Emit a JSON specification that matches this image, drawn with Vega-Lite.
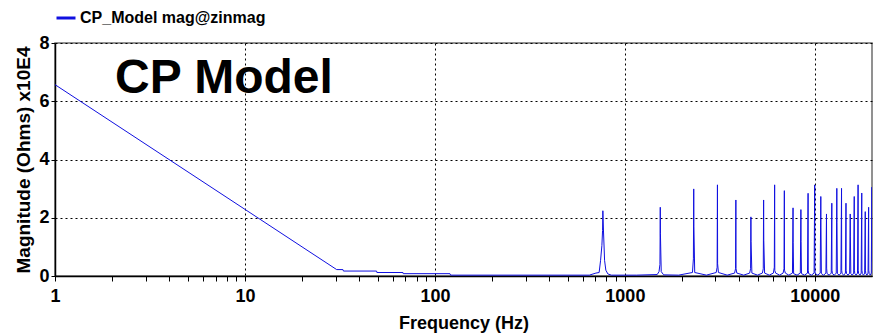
{
  "$schema": "https://vega.github.io/schema/vega-lite/v6.json",
  "width": 817,
  "height": 233,
  "autosize": {"type": "none"},
  "padding": {"left": 55, "top": 43, "right": 2, "bottom": 60},
  "background": "white",
  "config": {
    "font": "Liberation Sans",
    "view": {"stroke": "#6e6e6e", "strokeWidth": 1.5}
  },
  "layer": [
    {
      "data": {
        "values": [
          {"freq": 1, "mag": 6.57},
          {"freq": 30.4, "mag": 0.22},
          {"freq": 32.8, "mag": 0.22},
          {"freq": 33.0, "mag": 0.17},
          {"freq": 49.3, "mag": 0.17},
          {"freq": 49.5, "mag": 0.12},
          {"freq": 67.9, "mag": 0.12},
          {"freq": 68.1, "mag": 0.08},
          {"freq": 120, "mag": 0.08},
          {"freq": 121, "mag": 0.03},
          {"freq": 650, "mag": 0.03},
          {"freq": 704, "mag": 0.1},
          {"freq": 732, "mag": 0.12},
          {"freq": 745, "mag": 0.54},
          {"freq": 757, "mag": 1.05},
          {"freq": 763, "mag": 1.56},
          {"freq": 766, "mag": 2.24},
          {"freq": 772, "mag": 1.51},
          {"freq": 782, "mag": 0.54},
          {"freq": 794, "mag": 0.2},
          {"freq": 814, "mag": 0.07},
          {"freq": 850, "mag": 0.03},
          {"freq": 1152, "mag": 0.03},
          {"freq": 1480, "mag": 0.05},
          {"freq": 1513, "mag": 0.15},
          {"freq": 1530, "mag": 0.4},
          {"freq": 1536, "mag": 2.36},
          {"freq": 1539, "mag": 1.45},
          {"freq": 1554, "mag": 0.15},
          {"freq": 1600, "mag": 0.04},
          {"freq": 1920, "mag": 0.03},
          {"freq": 2269, "mag": 0.12},
          {"freq": 2295, "mag": 0.59},
          {"freq": 2304, "mag": 2.99},
          {"freq": 2309, "mag": 1.71},
          {"freq": 2332, "mag": 0.12},
          {"freq": 2688, "mag": 0.03},
          {"freq": 3026, "mag": 0.12},
          {"freq": 3060, "mag": 0.3},
          {"freq": 3072, "mag": 3.13},
          {"freq": 3078, "mag": 0.42},
          {"freq": 3109, "mag": 0.12},
          {"freq": 3456, "mag": 0.03},
          {"freq": 3782, "mag": 0.1},
          {"freq": 3825, "mag": 0.25},
          {"freq": 3840, "mag": 2.61},
          {"freq": 3848, "mag": 0.25},
          {"freq": 3886, "mag": 0.1},
          {"freq": 4224, "mag": 0.03},
          {"freq": 4539, "mag": 0.1},
          {"freq": 4590, "mag": 0.25},
          {"freq": 4608, "mag": 2.03},
          {"freq": 4617, "mag": 1.19},
          {"freq": 4663, "mag": 0.1},
          {"freq": 4992, "mag": 0.03},
          {"freq": 5295, "mag": 0.1},
          {"freq": 5354, "mag": 0.25},
          {"freq": 5376, "mag": 2.61},
          {"freq": 5387, "mag": 1.22},
          {"freq": 5441, "mag": 0.1},
          {"freq": 5760, "mag": 0.03},
          {"freq": 6052, "mag": 0.1},
          {"freq": 6119, "mag": 0.3},
          {"freq": 6144, "mag": 3.13},
          {"freq": 6156, "mag": 0.19},
          {"freq": 6218, "mag": 0.1},
          {"freq": 6528, "mag": 0.03},
          {"freq": 6808, "mag": 0.1},
          {"freq": 6884, "mag": 0.25},
          {"freq": 6912, "mag": 2.93},
          {"freq": 6926, "mag": 0.2},
          {"freq": 6995, "mag": 0.1},
          {"freq": 7296, "mag": 0.03},
          {"freq": 7626, "mag": 0.1},
          {"freq": 7680, "mag": 2.34},
          {"freq": 7695, "mag": 1.14},
          {"freq": 7734, "mag": 0.08},
          {"freq": 8064, "mag": 0.03},
          {"freq": 8389, "mag": 0.1},
          {"freq": 8448, "mag": 2.28},
          {"freq": 8465, "mag": 1.19},
          {"freq": 8507, "mag": 0.08},
          {"freq": 8832, "mag": 0.03},
          {"freq": 9151, "mag": 0.1},
          {"freq": 9216, "mag": 2.84},
          {"freq": 9234, "mag": 0.2},
          {"freq": 9281, "mag": 0.08},
          {"freq": 9600, "mag": 0.03},
          {"freq": 9914, "mag": 0.1},
          {"freq": 9984, "mag": 3.13},
          {"freq": 10004, "mag": 0.2},
          {"freq": 10054, "mag": 0.08},
          {"freq": 10368, "mag": 0.03},
          {"freq": 10677, "mag": 0.1},
          {"freq": 10752, "mag": 2.73},
          {"freq": 10774, "mag": 1.68},
          {"freq": 10827, "mag": 0.08},
          {"freq": 11136, "mag": 0.03},
          {"freq": 11439, "mag": 0.1},
          {"freq": 11520, "mag": 2.13},
          {"freq": 11543, "mag": 0.27},
          {"freq": 11601, "mag": 0.08},
          {"freq": 11904, "mag": 0.03},
          {"freq": 12202, "mag": 0.1},
          {"freq": 12288, "mag": 2.5},
          {"freq": 12313, "mag": 0.2},
          {"freq": 12374, "mag": 0.08},
          {"freq": 12672, "mag": 0.03},
          {"freq": 12965, "mag": 0.1},
          {"freq": 13056, "mag": 3.01},
          {"freq": 13082, "mag": 1.83},
          {"freq": 13147, "mag": 0.08},
          {"freq": 13440, "mag": 0.03},
          {"freq": 13727, "mag": 0.1},
          {"freq": 13824, "mag": 3.01},
          {"freq": 13852, "mag": 0.2},
          {"freq": 13921, "mag": 0.08},
          {"freq": 14208, "mag": 0.03},
          {"freq": 14490, "mag": 0.1},
          {"freq": 14592, "mag": 2.5},
          {"freq": 14621, "mag": 0.2},
          {"freq": 14694, "mag": 0.08},
          {"freq": 14976, "mag": 0.03},
          {"freq": 15252, "mag": 0.1},
          {"freq": 15360, "mag": 2.13},
          {"freq": 15391, "mag": 1.37},
          {"freq": 15468, "mag": 0.08},
          {"freq": 15744, "mag": 0.03},
          {"freq": 16015, "mag": 0.1},
          {"freq": 16128, "mag": 2.73},
          {"freq": 16160, "mag": 0.2},
          {"freq": 16241, "mag": 0.08},
          {"freq": 16512, "mag": 0.03},
          {"freq": 16778, "mag": 0.1},
          {"freq": 16896, "mag": 3.13},
          {"freq": 16930, "mag": 0.2},
          {"freq": 17014, "mag": 0.08},
          {"freq": 17280, "mag": 0.03},
          {"freq": 17540, "mag": 0.1},
          {"freq": 17664, "mag": 2.85},
          {"freq": 17699, "mag": 0.2},
          {"freq": 17788, "mag": 0.08},
          {"freq": 18048, "mag": 0.03},
          {"freq": 18303, "mag": 0.1},
          {"freq": 18432, "mag": 2.21},
          {"freq": 18469, "mag": 0.2},
          {"freq": 18561, "mag": 0.08},
          {"freq": 18816, "mag": 0.03},
          {"freq": 19066, "mag": 0.1},
          {"freq": 19200, "mag": 2.36},
          {"freq": 19238, "mag": 0.2},
          {"freq": 19334, "mag": 0.08},
          {"freq": 19584, "mag": 0.03},
          {"freq": 19828, "mag": 0.1},
          {"freq": 19968, "mag": 3.05},
          {"freq": 19995, "mag": 0.5}
        ]
      },
      "mark": {"type": "line", "strokeWidth": 1, "clip": true},
      "encoding": {
        "x": {
          "field": "freq",
          "type": "quantitative",
          "scale": {"type": "log", "domain": [1, 20000], "nice": false},
          "axis": {
            "title": "Frequency (Hz)",
            "values": [1, 2, 3, 4, 5, 6, 7, 8, 9, 10, 20, 30, 40, 50, 60, 70, 80, 90, 100, 200, 300, 400, 500, 600, 700, 800, 900, 1000, 2000, 3000, 4000, 5000, 6000, 7000, 8000, 9000, 10000],
            "format": "d",
            "labelExpr": "(datum.value == 1 || datum.value == 10 || datum.value == 100 || datum.value == 1000 || datum.value == 10000) ? datum.label : ''",
            "labelFlush": false,
            "labelOverlap": false,
            "labelFont": "Liberation Sans",
            "labelFontSize": 18,
            "labelFontWeight": "bold",
            "labelColor": "black",
            "labelPadding": 6,
            "tickColor": "black",
            "tickSize": 5,
            "tickWidth": 1,
            "domainColor": "black",
            "domainWidth": 1.5,
            "grid": true,
            "gridColor": "black",
            "gridDash": [2, 3],
            "gridWidth": 1,
            "gridOpacity": {
              "condition": {"test": "datum.value == 10 || datum.value == 100 || datum.value == 1000 || datum.value == 10000", "value": 1},
              "value": 0
            },
            "titleFont": "Liberation Sans",
            "titleFontSize": 18,
            "titleFontWeight": "bold",
            "titleColor": "black",
            "titlePadding": 9
          }
        },
        "y": {
          "field": "mag",
          "type": "quantitative",
          "scale": {"domain": [0, 8], "nice": false},
          "axis": {
            "title": "Magnitude (Ohms) x10E4",
            "values": [0, 2, 4, 6, 8],
            "labelFont": "Liberation Sans",
            "labelFontSize": 18,
            "labelFontWeight": "bold",
            "labelColor": "black",
            "labelPadding": 2,
            "tickColor": "black",
            "tickSize": 4,
            "domainColor": "black",
            "domainWidth": 1.5,
            "grid": true,
            "gridColor": "black",
            "gridDash": [2, 3],
            "gridWidth": 1,
            "titleFont": "Liberation Sans",
            "titleFontSize": 19,
            "titleFontWeight": "bold",
            "titleColor": "black",
            "titlePadding": 5
          }
        },
        "color": {
          "datum": "CP_Model mag@zinmag",
          "type": "nominal",
          "scale": {"range": ["#1010e0"]},
          "legend": {
            "orient": "none",
            "legendX": 0,
            "legendY": -36,
            "title": null,
            "symbolType": "stroke",
            "symbolStrokeWidth": 3,
            "symbolSize": 361,
            "labelFont": "Liberation Sans",
            "labelFontSize": 16,
            "labelFontWeight": "bold",
            "labelColor": "black",
            "labelOffset": 3,
            "labelLimit": 400
          }
        }
      }
    },
    {
      "data": {"values": [{"freq": 2.07, "mag": 6.29, "label": "CP Model"}]},
      "mark": {
        "type": "text",
        "align": "left",
        "baseline": "alphabetic",
        "font": "Liberation Sans",
        "fontSize": 48,
        "fontWeight": "bold",
        "color": "black"
      },
      "encoding": {
        "x": {"field": "freq", "type": "quantitative"},
        "y": {"field": "mag", "type": "quantitative"},
        "text": {"field": "label"}
      }
    }
  ]
}
